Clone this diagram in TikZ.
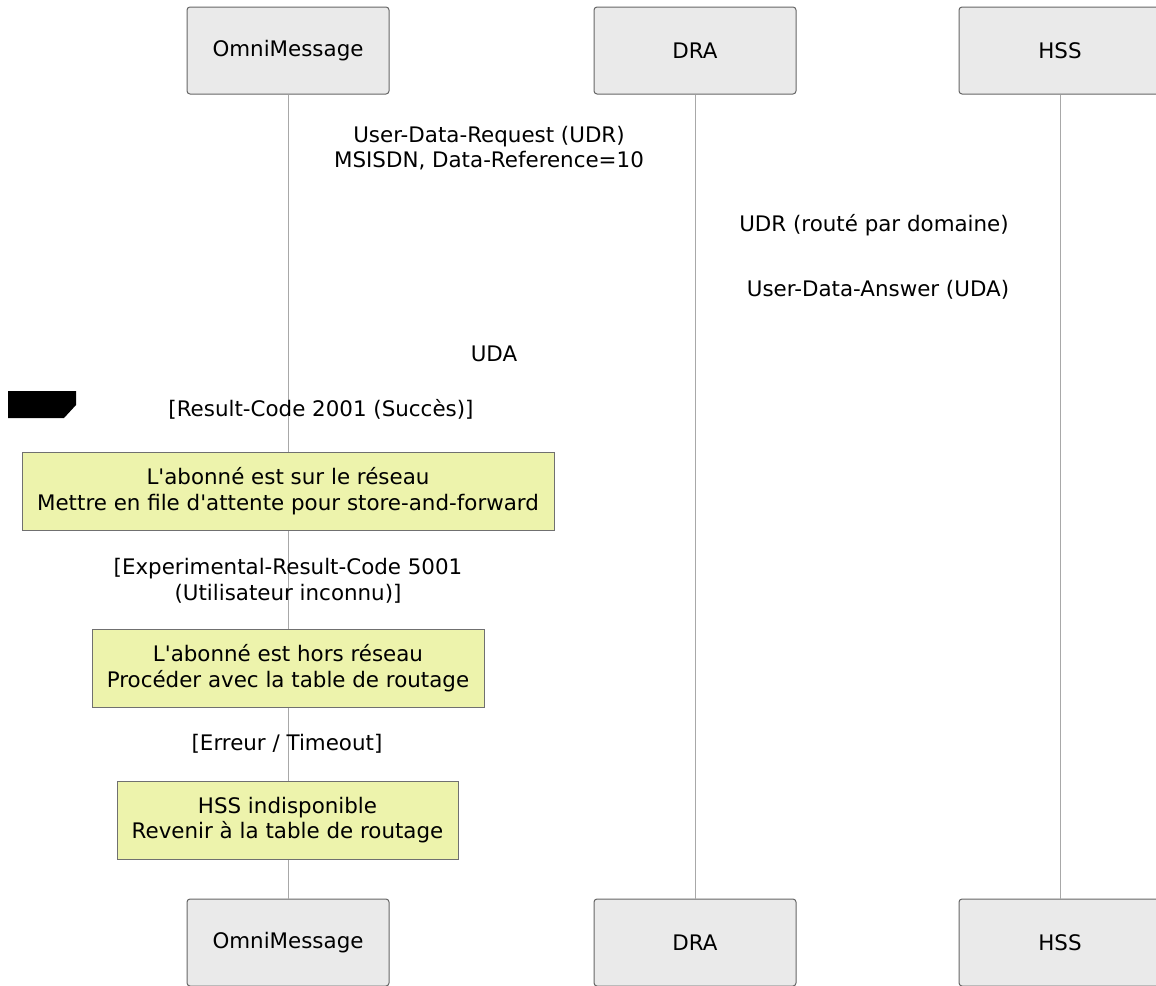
\documentclass[tikz,border=0pt]{standalone}
\usepackage{fontspec}
\newfontfamily\dejavu{DejaVu Sans}
\definecolor{actfill}{HTML}{EAEAEA}
\definecolor{actline}{HTML}{666666}
\definecolor{lifeline}{HTML}{A8A8A8}
\definecolor{notefill}{HTML}{EDF3AC}
\definecolor{noteline}{HTML}{707070}
\tikzset{
  actor/.style={draw=actline, fill=actfill, rounded corners=3pt, line width=1pt,
    minimum width=202pt, minimum height=87pt, inner sep=0pt},
  life/.style={draw=lifeline, line width=0.8pt},
  msg/.style={align=center, inner sep=0pt, text=black},
  notebox/.style={draw=noteline, fill=notefill, line width=1pt, align=center, inner sep=0pt},
}
\begin{document}
\begin{tikzpicture}[x=1pt,y=-1pt,font=\dejavu\fontsize{21.4}{25.5}\selectfont]
\useasboundingbox (0,0) rectangle (1156,985);
\clip (0,0) rectangle (1156,985);
% participants
\node[actor] (omniT) at (288,50.5) {OmniMessage};
\node[actor] (draT) at (695,50.5) {DRA};
\node[actor] (hssT) at (1060,50.5) {HSS};
\node[actor] (omniB) at (288,942.5) {OmniMessage};
\node[actor] (draB) at (695,942.5) {DRA};
\node[actor] (hssB) at (1060,942.5) {HSS};
% lifelines
\draw[life] (omniT.south) -- (omniB.north);
\draw[life] (draT.south) -- (draB.north);
\draw[life] (hssT.south) -- (hssB.north);
% message labels
\node[msg] (m1) at (489,148) {User-Data-Request (UDR)\\MSISDN, Data-Reference=10};
\node[msg] (m2) at (874,225) {UDR (routé par domaine)};
\node[msg] (m3) at (878,290) {User-Data-Answer (UDA)};
\node[msg] (m4) at (494,354) {UDA};
% alt label tab
\fill[black] (8,391) -- (76,391) -- (76,405) -- (64,418) -- (8,418) -- cycle;
\node[msg] (c1) at (321,409) {[Result-Code 2001 (Succès)]};
\node[notebox, minimum width=532pt, minimum height=78pt] (n1) at (288,491)
  {L'abonné est sur le réseau\\Mettre en file d'attente pour store-and-forward};
\node[msg] (c2) at (288,581) {[Experimental-Result-Code 5001\\(Utilisateur inconnu)]};
\node[notebox, minimum width=392pt, minimum height=78pt] (n2) at (288,668)
  {L'abonné est hors réseau\\Procéder avec la table de routage};
\node[msg] (c3) at (287,744) {[Erreur / Timeout]};
\node[notebox, minimum width=341pt, minimum height=78pt] (n3) at (287.5,820)
  {HSS indisponible\\Revenir à la table de routage};
\end{tikzpicture}
\end{document}
